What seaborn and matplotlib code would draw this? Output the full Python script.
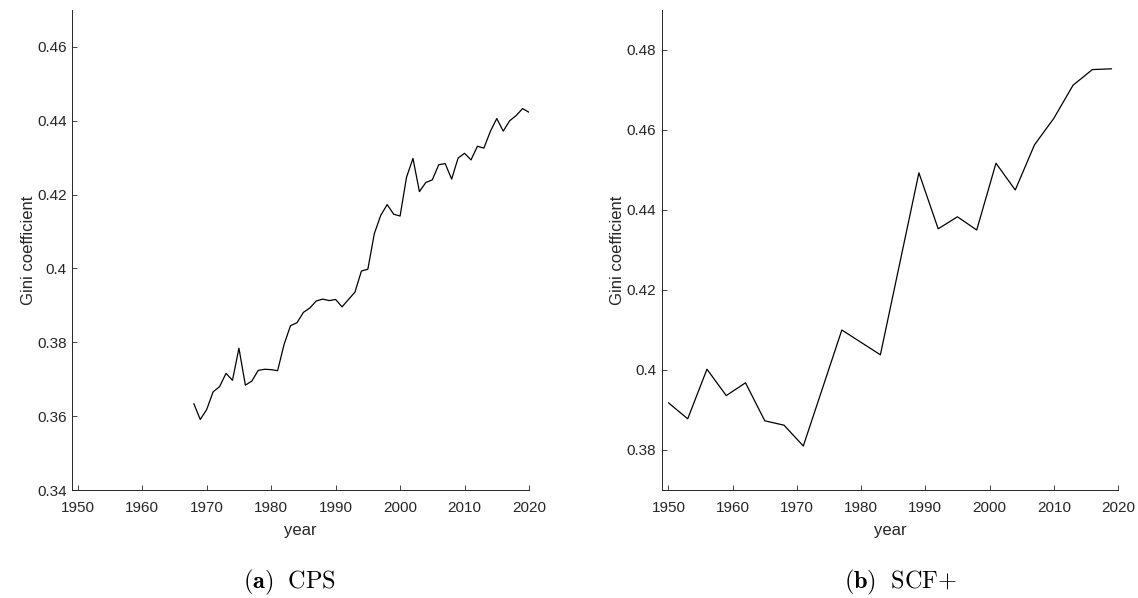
import numpy as np
import pandas as pd
import matplotlib
matplotlib.use("Agg")
import matplotlib.pyplot as plt
from matplotlib.ticker import FuncFormatter
import seaborn as sns

# ---- data ----
cps_years = list(range(1968, 2021))
cps_gini = [0.3634, 0.3591, 0.3618, 0.3666, 0.3680, 0.3716, 0.3697, 0.3784, 0.3684, 0.3695,
            0.3724, 0.3727, 0.3726, 0.3723, 0.3794, 0.3845, 0.3853, 0.3881, 0.3893, 0.3912,
            0.3917, 0.3913, 0.3916, 0.3896, 0.3916, 0.3936, 0.3993, 0.3998, 0.4094, 0.4144,
            0.4173, 0.4147, 0.4142, 0.4247, 0.4298, 0.4208, 0.4233, 0.4240, 0.4281, 0.4284,
            0.4242, 0.4299, 0.4312, 0.4294, 0.4331, 0.4326, 0.4371, 0.4406, 0.4372, 0.4400,
            0.4414, 0.4433, 0.4423]

scf_years = [1950, 1953, 1956, 1959, 1962, 1965, 1968, 1971, 1977, 1983, 1989, 1992,
             1995, 1998, 2001, 2004, 2007, 2010, 2013, 2016, 2019]
scf_gini = [0.3918, 0.3878, 0.4002, 0.3936, 0.3968, 0.3873, 0.3862, 0.3810, 0.4100, 0.4038,
            0.4493, 0.4353, 0.4383, 0.4350, 0.4517, 0.4450, 0.4563, 0.4629, 0.4712, 0.4751,
            0.4753]

x_ticks = [1950, 1960, 1970, 1980, 1990, 2000, 2010, 2020]
cps_yticks = [0.34, 0.36, 0.38, 0.40, 0.42, 0.44, 0.46]
scf_yticks = [0.38, 0.40, 0.42, 0.44, 0.46, 0.48]
captions = [r"$\mathbf{(a)}\ \ \mathrm{CPS}$", r"$\mathbf{(b)}\ \ \mathrm{SCF}{+}$"]

# ---- style ----
sns.set_style("ticks")
plt.rcParams['font.family'] = ['Liberation Sans', 'DejaVu Sans']
plt.rcParams['mathtext.fontset'] = 'cm'
gray = '#262626'
plt.rcParams.update({
    'xtick.direction': 'in', 'ytick.direction': 'in',
    'xtick.major.size': 3.6, 'ytick.major.size': 3.6,
    'xtick.major.width': 0.6, 'ytick.major.width': 0.6,
    'axes.linewidth': 0.7, 'axes.edgecolor': gray,
    'xtick.color': gray, 'ytick.color': gray,
    'xtick.labelcolor': gray, 'ytick.labelcolor': gray,
    'axes.labelcolor': gray, 'text.color': gray,
})

fig = plt.figure(figsize=(11.38, 5.98), dpi=100)
ax1 = fig.add_axes([72.3 / 1138, 1 - 490 / 598, (529 - 72.3) / 1138, 480 / 598])
ax2 = fig.add_axes([661.7 / 1138, 1 - 490 / 598, (1118 - 661.7) / 1138, 480 / 598])

df_cps = pd.DataFrame({"year": cps_years, "gini": cps_gini})
df_scf = pd.DataFrame({"year": scf_years, "gini": scf_gini})

sns.lineplot(data=df_cps, x="year", y="gini", ax=ax1, color="black", linewidth=0.9)
sns.lineplot(data=df_scf, x="year", y="gini", ax=ax2, color="black", linewidth=0.9)

fmt = FuncFormatter(lambda v, p: f"{v:g}")
for ax, yt, ylim, xlim in [(ax1, cps_yticks, (0.34, 0.47), (1949.15, 2020)),
                          (ax2, scf_yticks, (0.37, 0.49), (1948.95, 2020))]:
    ax.set_xlim(*xlim)
    ax.set_ylim(*ylim)
    ax.set_xticks(x_ticks)
    ax.set_yticks(yt)
    ax.yaxis.set_major_formatter(fmt)
    ax.tick_params(axis='x', labelsize=11, pad=8)
    ax.tick_params(axis='y', labelsize=11, pad=4)
    ax.set_xlabel("year", fontsize=12, labelpad=6)
    ax.set_ylabel("Gini coefficient", fontsize=12, labelpad=1)
    sns.despine(ax=ax)

fig.text(290 / 1138, 1 - 582 / 598, captions[0], ha="center", va="center",
         fontsize=17.5, color="black")
fig.text(901 / 1138, 1 - 582 / 598, captions[1], ha="center", va="center",
         fontsize=17.5, color="black")

fig.savefig("out.png", dpi=100)
